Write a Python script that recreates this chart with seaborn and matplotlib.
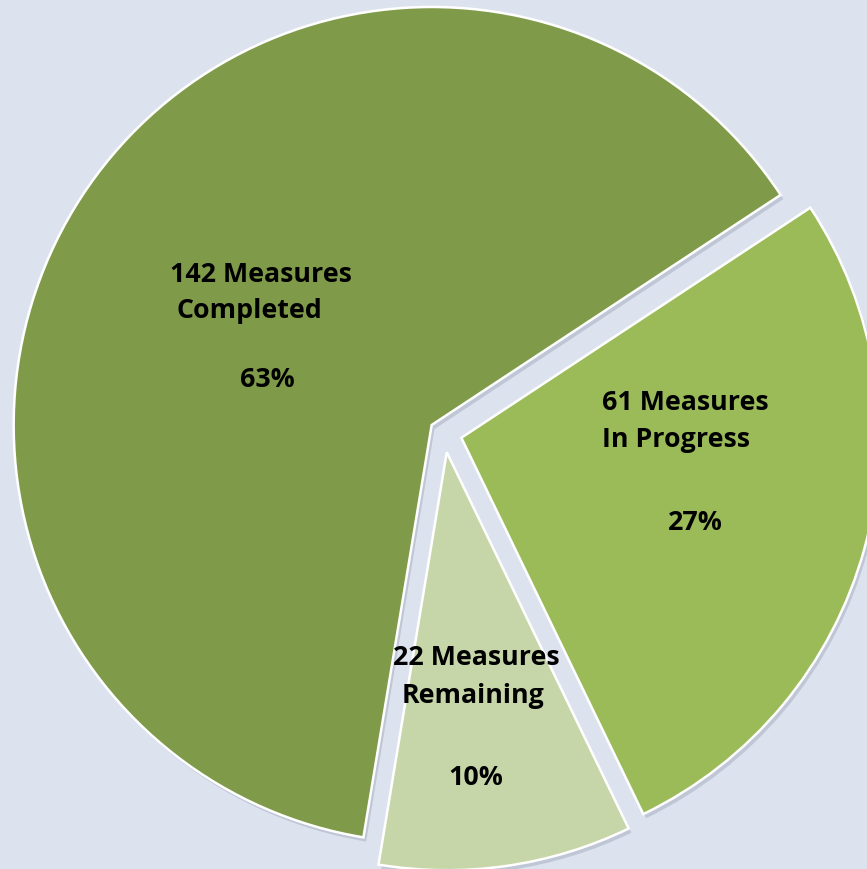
import matplotlib
matplotlib.use("Agg")
import matplotlib.pyplot as plt
import matplotlib.patheffects as pe
import seaborn as sns

# ---- data (drawing order, counter-clockwise from the upper right) ----
categories = ["Completed", "Remaining", "In Progress"]
counts = [142, 22, 61]
colors = ["#7F9A48", "#C6D6A9", "#9BBB59"]

sns.set_theme(style="white")
plt.rcParams["font.family"] = ["Open Sans", "DejaVu Sans"]

W, H = 867, 869
fig = plt.figure(figsize=(W / 100, H / 100), dpi=100)
bg = "#DDE3EE"
fig.patch.set_facecolor(bg)
ax = fig.add_axes([0, 0, 1, 1])
ax.set_facecolor(bg)

total = sum(counts)
wedges, _ = ax.pie(
    counts,
    colors=colors,
    startangle=33.4,
    counterclock=True,
    explode=[14.7, 19.4, 18.0],
    radius=418,
    center=(444, 436),
    wedgeprops=dict(edgecolor="white", linewidth=1.8),
    frame=True,
)
for w in wedges:
    w.set_path_effects([pe.SimplePatchShadow(offset=(2, -3), shadow_rgbFace="#8890a8", alpha=0.35),
                        pe.Normal()])
ax.set_xlim(0, W)
ax.set_ylim(0, H)
ax.set_aspect("equal")
ax.axis("off")

# label layout: left x and baseline (pixel rows from top) for each of the three lines
label_layout = {
    "Completed":   [(170, 282), (177, 318), (240, 387)],
    "Remaining":   [(393, 665), (402, 703), (448, 785)],
    "In Progress": [(602, 410), (602, 447), (668, 530)],
}
for cat, n in zip(categories, counts):
    pct = round(100 * n / total)
    lines = [f"{n} Measures", cat, f"{pct}%"]
    for txt, (x, yb) in zip(lines, label_layout[cat]):
        ax.text(x, H - yb, txt, ha="left", va="baseline",
                fontsize=19.3, fontweight="bold", color="black")

fig.savefig("out.png", dpi=100, facecolor=bg)
